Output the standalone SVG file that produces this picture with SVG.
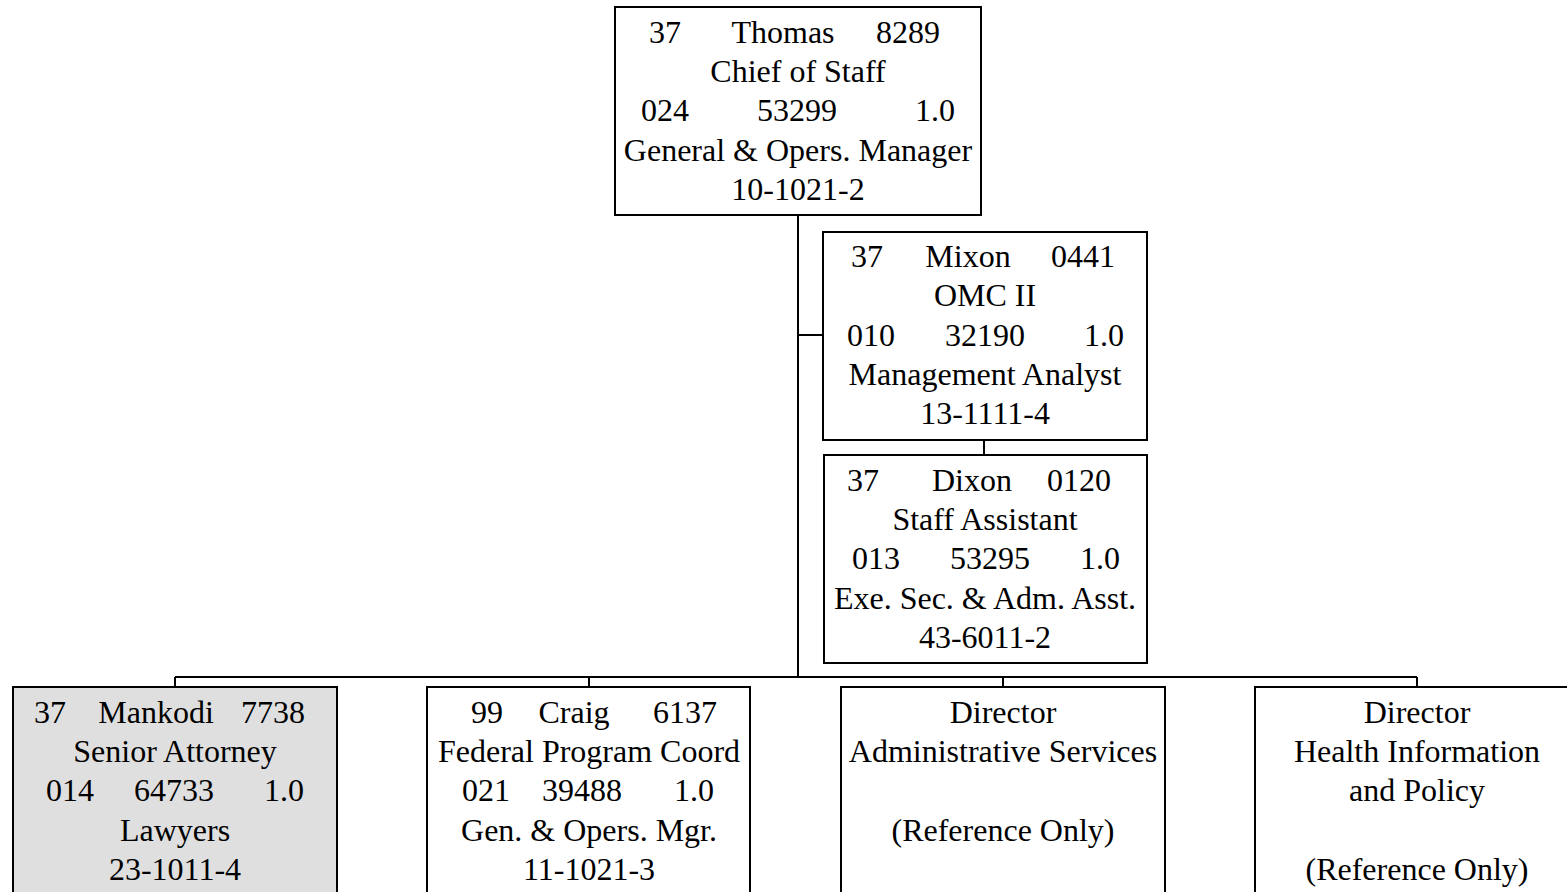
<svg xmlns="http://www.w3.org/2000/svg" width="1567" height="892" viewBox="0 0 1567 892">
<style>
.box{fill:#fff;stroke:#000;stroke-width:2}
.gray{fill:#dfdfdf}
.ln{stroke:#000;stroke-width:2;fill:none}
text{font-family:"Liberation Serif","Times New Roman",serif;font-size:32px;fill:#000;text-anchor:middle}
</style>
<rect width="1567" height="892" fill="#fff"/>
<g id="connectors">
<path class="ln" d="M798,215 V677 M798,335 H823 M984,440 V455 M175,677 H1417 M175,677 V687 M589,677 V687 M1003,677 V687 M1417,677 V687"/>
</g>
<g id="thomas">
<rect class="box" x="615" y="7" width="366" height="208"/>
<text x="665" y="43">37</text><text x="783" y="43">Thomas</text><text x="908" y="43">8289</text>
<text x="798" y="82">Chief of Staff</text>
<text x="665" y="121">024</text><text x="797" y="121">53299</text><text x="935" y="121">1.0</text>
<text x="798" y="161">General &amp; Opers. Manager</text>
<text x="798" y="200">10-1021-2</text>
</g>
<g id="mixon">
<rect class="box" x="823" y="232" width="324" height="208"/>
<text x="867" y="267">37</text><text x="968" y="267">Mixon</text><text x="1083" y="267">0441</text>
<text x="985" y="306">OMC II</text>
<text x="871" y="346">010</text><text x="985" y="346">32190</text><text x="1104" y="346">1.0</text>
<text x="985" y="385">Management Analyst</text>
<text x="985" y="424">13-1111-4</text>
</g>
<g id="dixon">
<rect class="box" x="824" y="455" width="323" height="208"/>
<text x="863" y="491">37</text><text x="972" y="491">Dixon</text><text x="1079" y="491">0120</text>
<text x="985" y="530">Staff Assistant</text>
<text x="876" y="569">013</text><text x="990" y="569">53295</text><text x="1100" y="569">1.0</text>
<text x="985" y="609">Exe. Sec. &amp; Adm. Asst.</text>
<text x="985" y="648">43-6011-2</text>
</g>
<g id="mankodi">
<rect class="box gray" x="13" y="687" width="324" height="220"/>
<text x="50" y="723">37</text><text x="156" y="723">Mankodi</text><text x="273" y="723">7738</text>
<text x="175" y="762">Senior Attorney</text>
<text x="70" y="801">014</text><text x="174" y="801">64733</text><text x="284" y="801">1.0</text>
<text x="175" y="841">Lawyers</text>
<text x="175" y="880">23-1011-4</text>
</g>
<g id="craig">
<rect class="box" x="427" y="687" width="323" height="220"/>
<text x="487" y="723">99</text><text x="574" y="723">Craig</text><text x="685" y="723">6137</text>
<text x="589" y="762">Federal Program Coord</text>
<text x="486" y="801">021</text><text x="582" y="801">39488</text><text x="694" y="801">1.0</text>
<text x="589" y="841">Gen. &amp; Opers. Mgr.</text>
<text x="589" y="880">11-1021-3</text>
</g>
<g id="dir-admin">
<rect class="box" x="841" y="687" width="324" height="220"/>
<text x="1003" y="723">Director</text>
<text x="1003" y="762">Administrative Services</text>
<text x="1003" y="841">(Reference Only)</text>
</g>
<g id="dir-health">
<rect class="box" x="1255" y="687" width="324" height="220"/>
<text x="1417" y="723">Director</text>
<text x="1417" y="762">Health Information</text>
<text x="1417" y="801">and Policy</text>
<text x="1417" y="880">(Reference Only)</text>
</g>
</svg>
